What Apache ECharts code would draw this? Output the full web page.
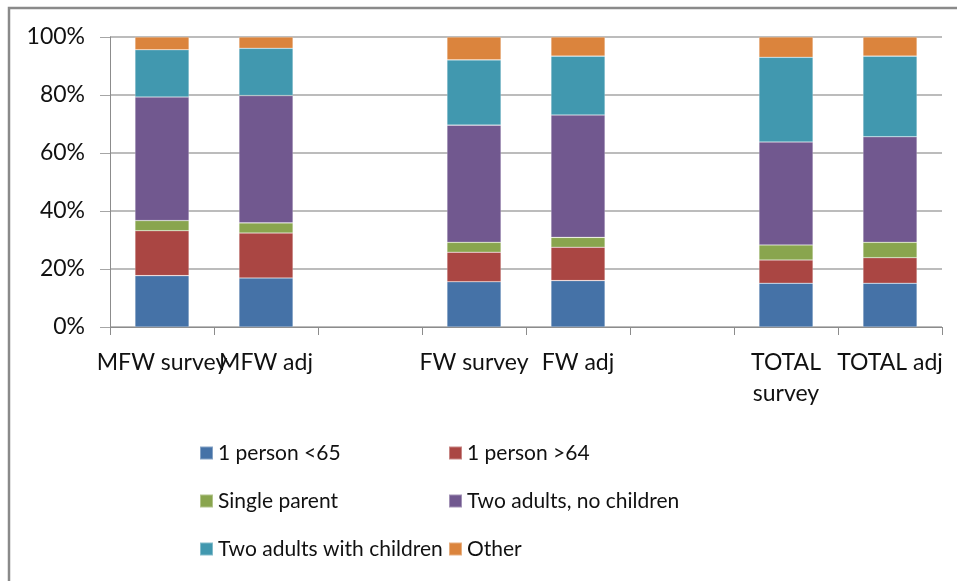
<!DOCTYPE html>
<html>
<head>
<meta charset="utf-8">
<title>Household composition</title>
<script src="https://cdn.jsdelivr.net/npm/echarts@6/dist/echarts.min.js"></script>
<style>
  html, body { margin: 0; padding: 0; background: #fff; }
  #chart { width: 957px; height: 581px; }
</style>
</head>
<body>
<div id="chart"></div>
<script>
// Category slots (empty slots separate the three groups)
const categories = ['MFW survey', 'MFW adj', '', 'FW survey', 'FW adj', '', 'TOTAL survey', 'TOTAL adj'];

// Share of households by type, percent
const onePersonUnder65 = [17.7, 16.9, null, 15.6, 16.0, null, 15.1, 15.1];
const onePersonOver64  = [15.5, 15.5, null, 10.2, 11.5, null, 8.0, 8.8];
const singleParent     = [3.5, 3.5, null, 3.4, 3.4, null, 5.2, 5.3];
const twoAdultsNoKids  = [42.6, 43.9, null, 40.4, 42.2, null, 35.5, 36.4];
const twoAdultsKids    = [16.3, 16.3, null, 22.5, 20.3, null, 29.2, 27.8];
const other            = [4.4, 3.9, null, 7.9, 6.6, null, 7.0, 6.6];

const yTicks = [0, 20, 40, 60, 80, 100];

const seriesDefs = [
  { name: '1 person <65', data: onePersonUnder65, color: '#4572A7' },
  { name: '1 person >64', data: onePersonOver64, color: '#AA4643' },
  { name: 'Single parent', data: singleParent, color: '#89A54E' },
  { name: 'Two adults, no children', data: twoAdultsNoKids, color: '#71588F' },
  { name: 'Two adults with children', data: twoAdultsKids, color: '#4198AF' },
  { name: 'Other', data: other, color: '#DB843D' }
];

const FONT = 'Lato, "Open Sans", sans-serif';
const chart = echarts.init(document.getElementById('chart'), null, { renderer: 'canvas' });

const legendText = { fontFamily: FONT, fontSize: 21, color: '#111', lineHeight: 24 };

chart.setOption({
  animation: false,
  backgroundColor: '#ffffff',
  textStyle: { fontFamily: FONT },
  grid: { left: 110, right: 15, top: 37, bottom: 254, containLabel: false },
  legend: [
    {
      data: ['1 person <65', 'Single parent', 'Two adults with children'],
      orient: 'vertical', left: 199, top: 441,
      itemWidth: 13, itemHeight: 13, itemGap: 24, padding: 0,
      icon: 'rect', textStyle: legendText
    },
    {
      data: ['1 person >64', 'Two adults, no children', 'Other'],
      orient: 'vertical', left: 448, top: 441,
      itemWidth: 13, itemHeight: 13, itemGap: 24, padding: 0,
      icon: 'rect', textStyle: legendText
    }
  ],
  xAxis: {
    type: 'category',
    data: categories,
    boundaryGap: true,
    axisLine: { lineStyle: { color: '#8c8c8c', width: 1 } },
    axisTick: { show: true, length: 8, lineStyle: { color: '#8c8c8c' } },
    axisLabel: {
      interval: 0,
      margin: 20,
      fontFamily: FONT,
      fontSize: 23,
      color: '#111',
      lineHeight: 31,
      formatter: v => v === 'TOTAL survey' ? 'TOTAL\nsurvey' : v
    },
    splitLine: { show: false }
  },
  yAxis: {
    type: 'value',
    min: yTicks[0],
    max: yTicks[yTicks.length - 1],
    interval: 20,
    axisLine: { show: true, lineStyle: { color: '#8c8c8c', width: 1 } },
    axisTick: { show: true, length: 10, lineStyle: { color: '#a6a6a6' } },
    axisLabel: {
      margin: 25,
      fontFamily: FONT,
      fontSize: 23,
      color: '#111',
      formatter: '{value}%'
    },
    splitLine: { show: true, lineStyle: { color: '#a6a6a6', width: 1.5 } }
  },
  series: seriesDefs.map(s => ({
    name: s.name,
    type: 'bar',
    stack: 'total',
    barWidth: '52%',
    data: s.data,
    itemStyle: { color: s.color, borderColor: 'rgba(255,255,255,0.35)', borderWidth: 0.6 }
  })),
  graphic: [
    {
      type: 'polyline',
      shape: { points: [[9, 581], [9, 8], [957, 8]] },
      style: { stroke: '#8a8a8a', lineWidth: 2.5, fill: null },
      silent: true
    }
  ]
});
</script>
</body>
</html>
